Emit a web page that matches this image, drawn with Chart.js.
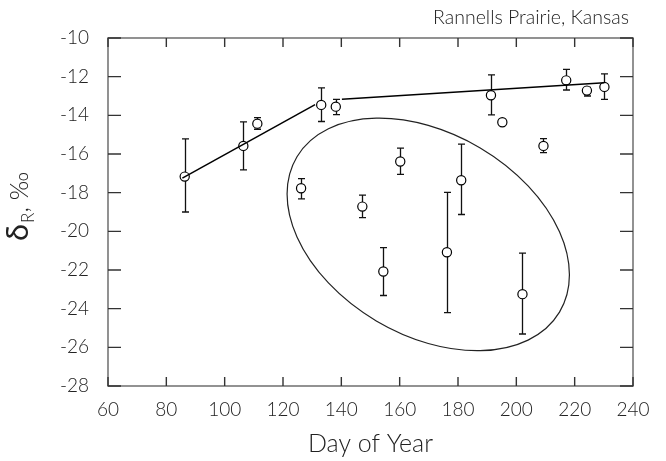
<!DOCTYPE html>
<html>
<head>
<meta charset="utf-8">
<script src="https://cdn.jsdelivr.net/npm/chart.js@4.4.1/dist/chart.umd.min.js"></script>
<style>
html,body{margin:0;padding:0;background:#fff;}
canvas{display:block;}
</style>
</head>
<body>
<canvas id="c" width="666" height="461"></canvas>
<script>
// ---- data ----
const DAYS   = [86.3, 106.4, 111.2, 126.2, 133.1, 138.1, 147.2, 154.4, 160.2, 176.2, 181.1, 191.3, 195.2, 202.1, 209.3, 217.1, 224.2, 230.2];
const DELTA  = [-17.17, -15.58, -14.43, -17.77, -13.46, -13.55, -18.72, -22.08, -16.39, -21.08, -17.36, -12.96, -14.36, -23.25, -15.58, -12.19, -12.72, -12.53];
const ERR_HI = [-15.22, -14.34, -14.12, -17.27, -12.58, -13.17, -18.13, -20.84, -15.70, -17.99, -15.49, -11.91, null, -21.13, -15.20, -11.62, -12.55, -11.86];
const ERR_LO = [-19.00, -16.82, -14.72, -18.32, -14.32, -13.96, -19.29, -23.32, -17.05, -24.20, -19.13, -13.98, null, -25.31, -15.93, -12.69, -13.00, -13.17];

const LINE1_X = [85.5, 131.0];
const LINE1_Y = [-17.25, -13.45];
const LINE2_X = [140.2, 230.2];
const LINE2_Y = [-13.17, -12.31];

// ellipse: centre and two conjugate semi-axis vectors, in data units
const ELLIPSE_CENTER = [169.8, -20.16];
const ELLIPSE_U = [48.4, -2.09];
const ELLIPSE_V = [0, 5.64];

const X_TICKS = [60, 80, 100, 120, 140, 160, 180, 200, 220, 240];
const Y_TICKS = [-28, -26, -24, -22, -20, -18, -16, -14, -12, -10];

const TITLE = 'Rannells Prairie, Kansas';
const X_TITLE = 'Day of Year';

const FONT = 'Lato, "Open Sans", sans-serif';

const pts = DAYS.map((d, i) => ({x: d, y: DELTA[i]}));
const line1 = LINE1_X.map((d, i) => ({x: d, y: LINE1_Y[i]}));
const line2 = LINE2_X.map((d, i) => ({x: d, y: LINE2_Y[i]}));

const decor = {
  id: 'decor',
  beforeDatasetsDraw(chart) {
    const ctx = chart.ctx, X = chart.scales.x, Y = chart.scales.y;
    // ellipse
    const cx = X.getPixelForValue(ELLIPSE_CENTER[0]), cy = Y.getPixelForValue(ELLIPSE_CENTER[1]);
    const ux = X.getPixelForValue(ELLIPSE_CENTER[0] + ELLIPSE_U[0]) - cx;
    const uy = Y.getPixelForValue(ELLIPSE_CENTER[1] + ELLIPSE_U[1]) - cy;
    const vx = X.getPixelForValue(ELLIPSE_CENTER[0] + ELLIPSE_V[0]) - cx;
    const vy = Y.getPixelForValue(ELLIPSE_CENTER[1] + ELLIPSE_V[1]) - cy;
    ctx.save();
    ctx.beginPath();
    ctx.save();
    ctx.transform(ux, uy, vx, vy, cx, cy);
    ctx.arc(0, 0, 1, 0, Math.PI * 2);
    ctx.restore();
    ctx.strokeStyle = '#222';
    ctx.lineWidth = 1.2;
    ctx.stroke();
    // error bars
    ctx.lineWidth = 1.3;
    ctx.strokeStyle = '#111';
    DAYS.forEach((d, i) => {
      if (ERR_HI[i] == null) return;
      const px = Math.round(X.getPixelForValue(d)) + 0.5;
      const y1 = Y.getPixelForValue(ERR_HI[i]);
      const y2 = Y.getPixelForValue(ERR_LO[i]);
      ctx.beginPath();
      ctx.moveTo(px, y1); ctx.lineTo(px, y2);
      ctx.moveTo(px - 3.5, y1); ctx.lineTo(px + 3.5, y1);
      ctx.moveTo(px - 3.5, y2); ctx.lineTo(px + 3.5, y2);
      ctx.stroke();
    });
    ctx.restore();
  },
  afterDraw(chart) {
    const ctx = chart.ctx, X = chart.scales.x, Y = chart.scales.y;
    const a = chart.chartArea;
    ctx.save();
    // frame
    ctx.strokeStyle = '#777';
    ctx.lineWidth = 1.6;
    ctx.strokeRect(a.left, a.top, a.right - a.left, a.bottom - a.top);
    // inward ticks
    ctx.strokeStyle = '#333';
    ctx.lineWidth = 1.4;
    ctx.beginPath();
    X_TICKS.forEach(v => {
      const px = X.getPixelForValue(v);
      ctx.moveTo(px, a.bottom); ctx.lineTo(px, a.bottom - 9);
      ctx.moveTo(px, a.top); ctx.lineTo(px, a.top + 9);
    });
    Y_TICKS.forEach(v => {
      const py = Y.getPixelForValue(v);
      ctx.moveTo(a.left, py); ctx.lineTo(a.left + 13, py);
      ctx.moveTo(a.right, py); ctx.lineTo(a.right - 13, py);
    });
    ctx.stroke();
    // title
    ctx.fillStyle = '#222';
    ctx.font = '300 19.5px ' + FONT;
    ctx.textAlign = 'right';
    ctx.textBaseline = 'alphabetic';
    ctx.fillText(TITLE, 629, 24);
    // y title: delta with subscript R
    ctx.translate(28, 241);
    ctx.rotate(-Math.PI / 2);
    ctx.textAlign = 'left';
    ctx.font = '400 31px ' + FONT;
    ctx.fillText('δ', 0, 0);
    let w = ctx.measureText('δ').width;
    ctx.font = '300 17px ' + FONT;
    ctx.fillText('R', w + 1, 6);
    w += 1 + ctx.measureText('R').width;
    ctx.font = '300 25px ' + FONT;
    ctx.fillText(', ‰', w, 0);
    ctx.restore();
  }
};

new Chart(document.getElementById('c'), {
  type: 'scatter',
  data: {
    datasets: [
      {data: line1, showLine: true, borderColor: '#000', borderWidth: 1.5, pointRadius: 0, order: 0},
      {data: line2, showLine: true, borderColor: '#000', borderWidth: 1.5, pointRadius: 0, order: 0},
      {data: pts, pointStyle: 'circle', pointRadius: 4.6, pointBorderWidth: 1.2,
       pointBackgroundColor: '#fff', pointBorderColor: '#000', backgroundColor: '#fff', borderColor: '#000', order: 1}
    ]
  },
  options: {
    responsive: false,
    animation: false,
    devicePixelRatio: 1,
    layout: {padding: {left: 0, right: 33, top: 38, bottom: 0}},
    plugins: {legend: {display: false}, tooltip: {enabled: false}, title: {display: false}},
    scales: {
      x: {
        type: 'linear', min: 60, max: 240,
        afterBuildTicks: s => { s.ticks = X_TICKS.map(v => ({value: v})); },
        grid: {display: false, drawTicks: false},
        border: {display: false},
        ticks: {color: '#222', font: {family: FONT, size: 19, weight: '300'}, padding: 12, maxRotation: 0},
        title: {display: true, text: X_TITLE, color: '#222', font: {family: FONT, size: 25, weight: '300'}, padding: {top: 0, bottom: 2}},
        afterFit: s => { s.height = 75; }
      },
      y: {
        type: 'linear', min: -28, max: -10,
        afterBuildTicks: s => { s.ticks = Y_TICKS.map(v => ({value: v})); },
        grid: {display: false, drawTicks: false},
        border: {display: false},
        ticks: {color: '#222', font: {family: FONT, size: 19, weight: '300'}, padding: 19},
        afterFit: s => { s.width = 108; }
      }
    }
  },
  plugins: [decor]
});
</script>
</body>
</html>
